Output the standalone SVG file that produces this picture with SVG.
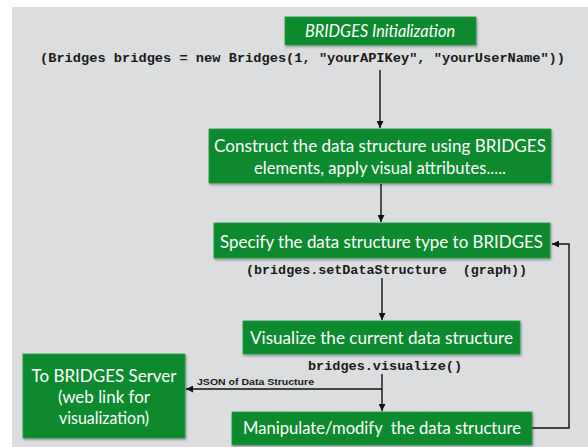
<svg xmlns="http://www.w3.org/2000/svg" width="588" height="447" viewBox="0 0 588 447">
<style>
.box{fill:#0b8a2e;stroke:#1f9a3f;stroke-width:0.8;filter:url(#sh)}
.lbl{font-family:Lato,"Open Sans",sans-serif;font-size:17px;fill:#ffffff;text-anchor:middle}
.code{font-family:"Liberation Mono",monospace;font-weight:bold;font-size:13.5px;fill:#1a1a1a}
.json{font-family:"Liberation Sans",Arial,sans-serif;font-weight:bold;font-size:9px;fill:#1a1a1a}
.conn{fill:none;stroke:#111;stroke-width:1.4}
</style>
<defs>
<filter id="sh" x="-10%" y="-20%" width="120%" height="150%">
<feDropShadow dx="1" dy="1.5" stdDeviation="1.2" flood-color="#000" flood-opacity="0.35"/>
</filter>
<marker id="ah" viewBox="0 0 10 10" refX="10" refY="5" markerWidth="7" markerHeight="7" markerUnits="userSpaceOnUse" orient="auto">
<path d="M0,0 L10,5 L0,10 z" fill="#111"/>
</marker>
</defs>
<rect x="0" y="0" width="588" height="447" fill="#ffffff"/>
<rect x="12" y="7" width="576" height="440" fill="#dcdddf"/>

<g id="connectors">
<path class="conn" d="M380,70 V128" marker-end="url(#ah)"/>
<path class="conn" d="M381,184 V222" marker-end="url(#ah)"/>
<path class="conn" d="M382,278 V320" marker-end="url(#ah)"/>
<path class="conn" d="M382,374 V411" marker-end="url(#ah)"/>
<path class="conn" d="M382,389 H186" marker-end="url(#ah)"/>
<path class="conn" d="M532,428 H569 V244 H552" marker-end="url(#ah)"/>
<text class="json" x="197" y="385" textLength="117" lengthAdjust="spacingAndGlyphs">JSON of Data Structure</text>
</g>

<g id="init">
<rect class="box" x="285" y="17" width="191" height="28"/>
<text class="lbl" x="380" y="37" font-style="italic" font-size="16" textLength="150" lengthAdjust="spacingAndGlyphs">BRIDGES Initialization</text>
<text class="code" x="40" y="62" textLength="525" lengthAdjust="spacingAndGlyphs">(Bridges bridges = new Bridges(1, "yourAPIKey", "yourUserName"))</text>
</g>

<g id="construct">
<rect class="box" x="209" y="129" width="342" height="54"/>
<text class="lbl" x="380" y="152" textLength="332" lengthAdjust="spacingAndGlyphs">Construct the data structure using BRIDGES</text>
<text class="lbl" x="380" y="174" textLength="252" lengthAdjust="spacingAndGlyphs">elements, apply visual attributes.....</text>
</g>

<g id="specify">
<rect class="box" x="214" y="223" width="336" height="35"/>
<text class="lbl" x="381.5" y="248" textLength="323" lengthAdjust="spacingAndGlyphs">Specify the data structure type to BRIDGES</text>
<text class="code" x="246" y="274" textLength="281" lengthAdjust="spacingAndGlyphs" xml:space="preserve">(bridges.setDataStructure  (graph))</text>
</g>

<g id="visualize">
<rect class="box" x="243" y="321" width="277" height="33"/>
<text class="lbl" x="381.5" y="344" textLength="263" lengthAdjust="spacingAndGlyphs">Visualize the current data structure</text>
<text class="code" x="308" y="370" textLength="154" lengthAdjust="spacingAndGlyphs">bridges.visualize()</text>
</g>

<g id="manipulate">
<rect class="box" x="232" y="412" width="300" height="33"/>
<text class="lbl" x="382" y="434" textLength="278" lengthAdjust="spacingAndGlyphs" xml:space="preserve">Manipulate/modify  the data structure</text>
</g>

<g id="server">
<rect class="box" x="23" y="354" width="162" height="84"/>
<text class="lbl" x="104" y="382" textLength="145" lengthAdjust="spacingAndGlyphs">To BRIDGES Server</text>
<text class="lbl" x="104" y="403" textLength="92" lengthAdjust="spacingAndGlyphs">(web link for</text>
<text class="lbl" x="104" y="424" textLength="90" lengthAdjust="spacingAndGlyphs">visualization)</text>
</g>
</svg>
